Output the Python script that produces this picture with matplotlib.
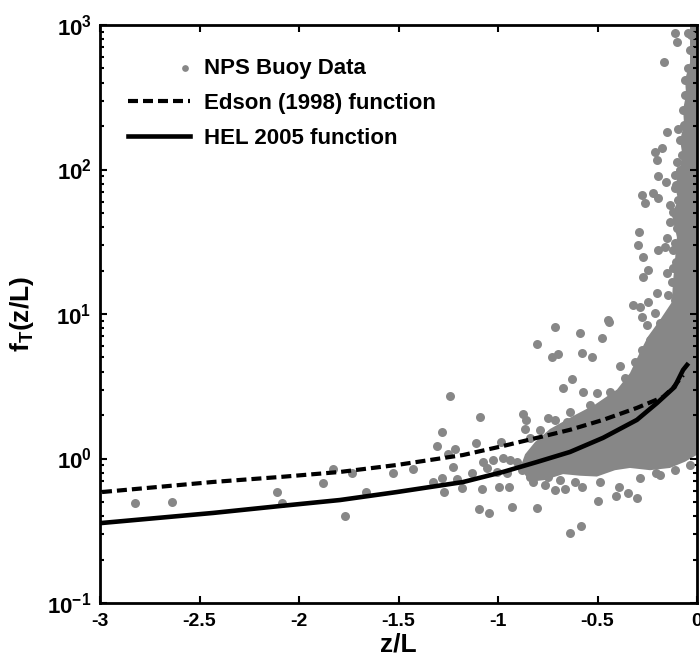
import numpy as np
import matplotlib
matplotlib.use("Agg")
import matplotlib.pyplot as plt
from matplotlib.legend_handler import HandlerPathCollection
from matplotlib.ticker import LogLocator, FuncFormatter, NullFormatter

plt.rcParams['font.family'] = ['Liberation Sans', 'DejaVu Sans']
plt.rcParams['font.weight'] = 'bold'
plt.rcParams['mathtext.fontset'] = 'custom'
plt.rcParams['mathtext.rm'] = 'Liberation Sans:bold'
plt.rcParams['mathtext.bf'] = 'Liberation Sans:bold'

# HEL 2005 function (solid)
hel_x = [-2.990, -2.432, -2.095, -1.794, -1.508, -1.176, -0.975, -0.804, -0.638,
         -0.472, -0.302, -0.201, -0.113, -0.070, -0.050]
hel_y = [0.358, 0.420, 0.469, 0.516, 0.586, 0.687, 0.807, 0.946, 1.11,
         1.39, 1.85, 2.42, 3.12, 4.1, 4.44]

# Edson (1998) function (dashed)
edson_x = [-2.990, -2.432, -2.095, -1.794, -1.508, -1.176, -0.975, -0.804, -0.638,
           -0.472, -0.302, -0.171, -0.121, -0.070]
edson_y = [0.586, 0.688, 0.745, 0.807, 0.902, 1.057, 1.22, 1.39, 1.58,
           1.85, 2.24, 2.66, 3.08, 3.78]

# NPS buoy data - scattered points
buoy_x = [-0.111, -0.045, -0.101, -0.166, -0.151, -0.095, -0.211, -0.176, -0.201, -0.101,
          -0.196, -0.111, -0.156, -0.111, -0.276, -0.221, -0.196, -0.261, -0.136, -0.136,
          -0.291, -0.296, -0.151, -0.196, -0.271, -0.161, -0.121, -0.246, -0.271, -0.151,
          -0.121, -0.201, -0.146, -0.322, -0.286, -0.246, -0.211, -0.276, -0.442, -0.251,
          -0.186, -0.714, -0.588, -0.477, -0.804, -0.729, -0.698, -0.578, -0.528, -0.387,
          -0.628, -0.673, -0.573, -0.503, -0.447, -0.412, -1.241, -1.090, -0.874, -0.859,
          -0.864, -1.281, -1.307, -1.216, -1.111, -0.985, -1.251, -0.749, -0.653, -0.578,
          -2.824, -2.638, -2.111, -2.085, -1.879, -1.829, -1.769, -1.734, -1.528, -1.663,
          -1.427, -1.226, -1.131, -1.281, -1.327, -1.206, -1.271, -1.181, -1.080, -0.995,
          -0.945, -0.930, -1.095, -1.045, -0.804, -1.075, -1.025, -0.975, -0.940, -0.905,
          -0.839, -1.055, -1.005, -0.955, -0.879, -0.839, -0.824, -0.804, -0.663, -0.578,
          -0.497, -0.407, -0.392, -0.347, -0.302, -0.206, -0.035, -0.638, -0.583, -0.714,
          -0.749, -0.764, -0.688, -0.613, -0.487, -0.286, -0.186, -0.111, -0.236, -0.276,
          -0.312, -0.362, -0.437, -0.538, -0.638, -0.714, -0.789, -0.839, -0.136, -0.111,
          -0.126, -0.106, -0.111, -0.101, -0.121, -0.095, -0.106, -0.085, -0.075, -0.085,
          -0.065, -0.070, -0.060, -0.060, -0.045, -0.035, -0.030]
buoy_y = [881, 881, 763, 555, 182, 191, 132, 141, 116, 113,
          90, 92, 82, 74.5, 66.6, 68.8, 63.5, 58.7, 56.8, 43.3,
          36.9, 30.0, 33.6, 27.7, 24.8, 29.1, 27.7, 20.2, 18.0, 19.2,
          20.8, 14.0, 13.5, 11.5, 11.2, 12.1, 10.2, 9.5, 8.8, 8.4,
          8.7, 8.1, 7.4, 6.8, 6.2, 5.0, 5.3, 5.4, 5.0, 4.4,
          3.55, 3.08, 2.89, 2.84, 9.1, 2.75, 2.71, 1.94, 2.03, 1.85,
          1.60, 1.53, 1.22, 1.16, 1.28, 1.30, 1.07, 1.91, 1.79, 1.85,
          0.492, 0.500, 0.586, 0.492, 0.677, 0.846, 0.400, 0.794, 0.794, 0.586,
          0.846, 0.873, 0.794, 0.733, 0.688, 0.721, 0.586, 0.625, 0.615, 0.635,
          0.635, 0.462, 0.447, 0.420, 0.454, 0.946, 0.976, 1.01, 0.976, 0.946,
          0.976, 0.860, 0.806, 0.794, 0.833, 0.745, 0.688, 0.873, 0.615, 0.635,
          0.508, 0.550, 0.635, 0.577, 0.533, 0.794, 0.902, 0.305, 0.341, 0.605,
          0.745, 0.656, 0.710, 0.688, 0.688, 0.733, 0.768, 0.833, 6.61, 5.63,
          4.65, 3.61, 2.89, 2.35, 2.10, 1.85, 1.57, 1.39, 9.84, 12.5,
          16.6, 22.9, 31.0, 39.4, 50.8, 61.5, 78.1, 99.2, 126, 160,
          203, 258, 328, 416, 504, 671, 853]

# outline of the saturated (overlapping) part of the cloud near z/L = 0
dense_x = [0.0, 0.0, -0.060, -0.136, -0.236, -0.337, -0.412, -0.503, -0.588, -0.673,
           -0.764, -0.839, -0.889, -0.864, -0.814, -0.739, -0.613, -0.513, -0.402, -0.337,
           -0.286, -0.246, -0.186, -0.126, -0.121, -0.111, -0.101, -0.126, -0.095, -0.111,
           -0.085, -0.075, -0.085, -0.065, -0.070, -0.055, -0.060, -0.035, -0.035]
dense_y = [1000, 1.06, 0.95, 0.86, 0.83, 0.86, 0.83, 0.75, 0.76, 0.78,
           0.71, 0.69, 0.86, 1.07, 1.30, 1.60, 2.0, 2.36, 3.0, 3.9,
           5.46, 7.0, 9.1, 12.1, 16.5, 23.3, 34, 48.4, 62, 77,
           100, 130, 160, 205, 260, 330, 420, 550, 1000]

gray = '#878787'

fig = plt.figure(figsize=(7, 6.59), dpi=100)
ax = fig.add_axes([100 / 700, 1 - 603 / 659, 597 / 700, 578 / 659])

ax.fill(dense_x, dense_y, color=gray, lw=0, zorder=1)
sc = ax.scatter(buoy_x, buoy_y, s=42, color=gray, lw=0, zorder=2, label='NPS Buoy Data')
ax.plot(edson_x, edson_y, color='black', lw=3.0, ls=(0, (2.4, 1.2)), zorder=3,
        label='Edson (1998) function')
ax.plot(hel_x, hel_y, color='black', lw=3.3, zorder=3, label='HEL 2005 function')

ax.set_yscale('log')
ax.set_xlim(-3, 0)
ax.set_ylim(0.1, 1000)
ax.set_xticks(np.arange(-3, 0.01, 0.5))
ax.set_xticklabels(['-3', '-2.5', '-2', '-1.5', '-1', '-0.5', '0'])
ax.yaxis.set_major_locator(LogLocator(base=10, numticks=10))
ax.yaxis.set_minor_locator(LogLocator(base=10, subs=np.arange(2, 10), numticks=20))
ax.yaxis.set_major_formatter(FuncFormatter(lambda v, p: r'$10^{%d}$' % round(np.log10(v))))
ax.yaxis.set_minor_formatter(NullFormatter())

ax.tick_params(which='both', direction='in', top=True, right=True, width=1.5)
ax.tick_params(which='major', length=5)
ax.tick_params(which='minor', length=3)
ax.tick_params(axis='x', pad=7, labelsize=14)
ax.tick_params(axis='y', pad=6, labelsize=16)
for s in ax.spines.values():
    s.set_linewidth(2)

ax.set_xlabel('z/L', fontsize=19, fontweight='bold', labelpad=2)
ax.set_ylabel(r'f$_\mathrm{T}$(z/L)', fontsize=19, fontweight='bold', labelpad=8)


class RightDot(HandlerPathCollection):
    def get_xdata(self, legend, xdescent, ydescent, width, height, fontsize):
        xdata = [-xdescent, -xdescent + width]
        return xdata, [-xdescent + width - 4]


leg = ax.legend(loc='upper left', bbox_to_anchor=(0.047, 0.943), frameon=False,
                borderpad=0, borderaxespad=0, fontsize=16, handlelength=2.8,
                handletextpad=0.6, labelspacing=0.62, scatterpoints=1, markerscale=0.75,
                handler_map={sc: RightDot()})

fig.savefig('out.png', dpi=100)
